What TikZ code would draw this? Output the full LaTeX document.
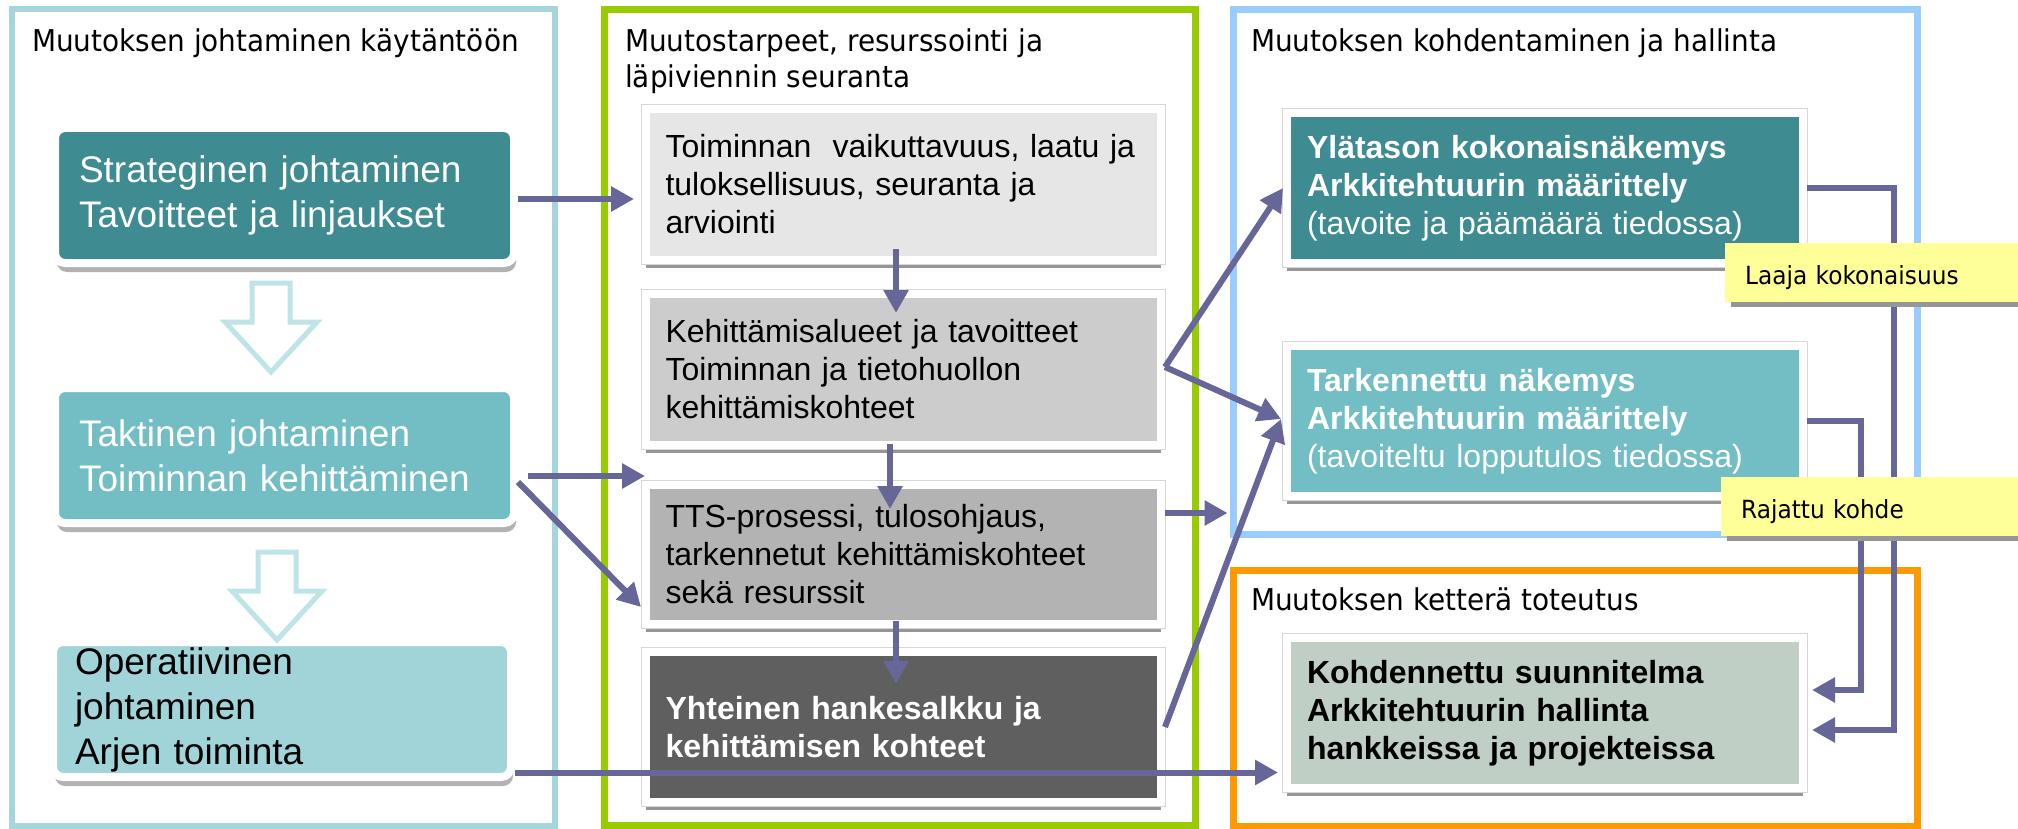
\documentclass[tikz,border=0pt]{standalone}
\usepackage{fontspec}
\setmainfont{Liberation Sans}
\newfontfamily\titlefont[FakeStretch=0.93]{DejaVu Sans}
\usetikzlibrary{arrows.meta,calc,shadows}
\definecolor{lpanel}{RGB}{165,214,219}
\definecolor{gpanel}{RGB}{153,204,0}
\definecolor{bpanel}{RGB}{153,204,255}
\definecolor{opanel}{RGB}{255,153,0}
\definecolor{tealdark}{RGB}{62,139,145}
\definecolor{tealmid}{RGB}{115,190,196}
\definecolor{teallight}{RGB}{160,212,216}
\definecolor{hollowcol}{RGB}{190,228,232}
\definecolor{conncol}{RGB}{102,102,153}
\definecolor{grayA}{RGB}{230,230,230}
\definecolor{grayB}{RGB}{204,204,204}
\definecolor{grayC}{RGB}{179,179,179}
\definecolor{grayD}{RGB}{95,95,95}
\definecolor{sage}{RGB}{192,207,198}
\definecolor{notey}{RGB}{255,255,153}
\definecolor{shadowgray}{RGB}{150,150,150}
\definecolor{frameline}{RGB}{215,215,215}
\begin{document}
\begin{tikzpicture}[x=1pt,y=-1pt,
  panel/.style={rectangle, inner sep=0pt},
  title/.style={anchor=base west, inner sep=0pt, font=\titlefont\fontsize{30}{36}\selectfont},
  lbox/.style={rectangle, rounded corners=10pt, draw=white, line width=8pt,
    minimum width=459pt, minimum height=135pt, text width=411pt, inner xsep=24pt, inner ysep=0pt,
    align=left, font=\fontsize{37}{45}\selectfont,
    drop shadow={shadow xshift=2pt, shadow yshift=-9pt, opacity=0.3, fill=black}},
  mbox/.style={rectangle, draw=white, line width=8pt, minimum width=515pt, text width=476pt,
    inner xsep=19.5pt, inner ysep=0pt, align=left, font=\fontsize{32}{38}\selectfont,
    drop shadow={shadow xshift=0pt, shadow yshift=-8pt, opacity=1, fill=shadowgray},
    preaction={draw=frameline, line width=10pt}},
  rbox/.style={mbox, minimum width=516pt, minimum height=150pt, text width=476pt, inner xsep=20pt},
  note/.style={rectangle, fill=notey, anchor=west, minimum height=59pt, text width=270pt, align=left,
    inner xsep=20pt, inner ysep=0pt,
    text height=24pt, text depth=1pt, font=\titlefont\fontsize{25}{30}\selectfont,
    drop shadow={shadow xshift=6pt, shadow yshift=-5pt, opacity=1, fill=shadowgray}},
  hollowarrow/.style={draw=hollowcol, line width=5pt, fill=white, line join=miter},
  conn/.style={draw=conncol, line width=6pt, -{Triangle[length=23pt,width=24pt]}},
]
\useasboundingbox[fill=white] (0,0) rectangle (2018,829);

% panels
\node[panel, draw=lpanel, line width=6pt, minimum width=542.5pt, minimum height=816pt] (panelL) at (283.25,417.5) {};
\node[panel, draw=gpanel, line width=7pt, minimum width=591.5pt, minimum height=815.5pt] (panelG) at (899.75,417.25) {};
\node[panel, draw=bpanel, line width=7pt, minimum width=684pt, minimum height=525pt] (panelB) at (1575,272) {};
\node[panel, draw=opanel, line width=7pt, minimum width=684pt, minimum height=256pt] (panelO) at (1575,698) {};

% titles
\node[title] (tL) at (32,52) {Muutoksen johtaminen käytäntöön};
\node[title] (tM1) at (625,52) {Muutostarpeet, resurssointi ja};
\node[title] (tM2) at (625,88) {läpiviennin seuranta};
\node[title] (tB) at (1251,52) {Muutoksen kohdentaminen ja hallinta};
\node[title] (tO) at (1251,610) {Muutoksen ketterä toteutus};

% left column
\node[lbox, fill=tealdark, text=white] (strat) at (284.5,195.5) {Strateginen johtaminen\\Tavoitteet ja linjaukset};
\node[lbox, fill=tealmid, text=white] (tact) at (284.5,455.5) {Taktinen johtaminen\\Toiminnan kehittäminen};
\node[lbox, fill=teallight, text=black, inner xsep=22pt, text width=414pt, minimum width=458pt] (oper) at (282,709.5) {Operatiivinen\\johtaminen\\Arjen toiminta};

\draw[hollowarrow] (271,372) -- (317,322) -- (290,322) -- (290,283) -- (252,283) -- (252,322) -- (225,322) -- cycle;
\draw[hollowarrow] (277,640) -- (322,591) -- (296,591) -- (296,552) -- (258,552) -- (258,591) -- (232,591) -- cycle;

% middle column
\node[mbox, fill=grayA, minimum height=151pt] (box1) at (903.5,184.5) {Toiminnan~ vaikuttavuus, laatu ja\\tuloksellisuus, seuranta ja\\arviointi};
\node[mbox, fill=grayB, minimum height=151pt] (box2) at (903.5,369.5) {Kehittämisalueet ja tavoitteet\\Toiminnan ja tietohuollon\\kehittämiskohteet};
\node[mbox, fill=grayC, minimum height=139pt] (box3) at (903.5,554.5) {TTS-prosessi, tulosohjaus,\\tarkennetut kehittämiskohteet\\sekä resurssit};
\node[mbox, fill=grayD, minimum height=150pt, text=white, font=\bfseries\fontsize{32}{38}\selectfont] (box4) at (903.5,727) {Yhteinen hankesalkku ja\\kehittämisen kohteet};

% right column
\node[rbox, fill=tealdark, text=white] (yla) at (1545,188) {\textbf{Ylätason kokonaisnäkemys}\\\textbf{Arkkitehtuurin määrittely}\\(tavoite ja päämäärä tiedossa)};
\node[rbox, fill=tealmid, text=white] (tark) at (1545,421) {\textbf{Tarkennettu näkemys}\\\textbf{Arkkitehtuurin määrittely}\\(tavoiteltu lopputulos tiedossa)};
\node[rbox, fill=sage, text=black, font=\bfseries\fontsize{32}{38}\selectfont] (kohd) at (1545,713) {Kohdennettu suunnitelma\\Arkkitehtuurin hallinta\\hankkeissa ja projekteissa};

% connectors
\coordinate (c1) at ($(strat.east)+(0,3.5)$);
\draw[conn, shorten >=8pt] (c1) -- (c1 -| box1.west);
\draw[conn] ($(box1.south)+(-7.5,-15)$) -- ($(box2.north)+(-7.5,23)$);
\draw[conn] ($(box2.south)+(-13.5,-5)$) -- ($(box3.north)+(-13.5,28)$);
\draw[conn] ($(box3.south)+(-7.5,-7)$) -- ($(box4.north)+(-7.5,36)$);
\coordinate (c5) at ($(tact.east)+(10,20.5)$);
\coordinate (t5) at (c5 -| box3.west);
\draw[conn] (c5) -- ($(t5)+(3,0)$);
\draw[conn] ($(tact.east)+(0,26.5)$) -- ($(box3.west)+(-1,52.5)$);
\coordinate (c7) at ($(oper.east)+(0,63)$);
\draw[conn, shorten >=5pt] (c7) -- (c7 -| kohd.west);
\draw[conn] ($(box2.east)+(0,-2.5)$) -- (yla.west);
\draw[conn] ($(box2.east)+(0,-2.5)$) -- ($(tark.west)+(-2,-2)$);
\coordinate (c10) at ($(box3.east)+(0,-41.5)$);
\draw[conn, shorten >=2pt] (c10) -- (c10 -| panelB.west);
\draw[conn] (box4.east) -- ($(tark.west)+(-2,-2)$);
\draw[conn, shorten >=5pt] (yla.east) -- ++(87,0) |- ($(kohd.east)+(0,17)$);
\draw[conn, shorten >=5pt] (tark.east) -- ++(54,0) |- ($(kohd.east)+(0,-23)$);

% notes
\node[note, minimum width=310pt] (laaja) at (1725,272.5) {Laaja kokonaisuus};
\node[note, minimum width=310pt] (rajattu) at (1721,506.5) {Rajattu kohde};
\end{tikzpicture}
\end{document}
